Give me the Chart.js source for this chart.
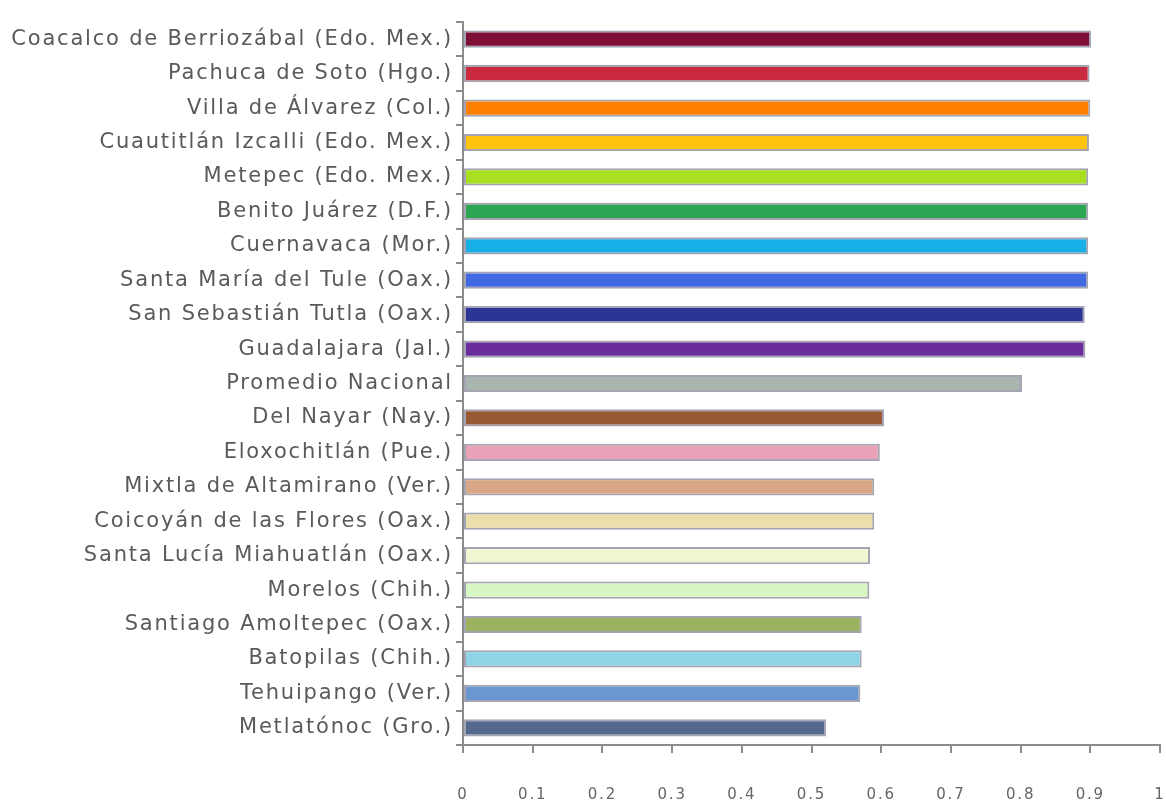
<!DOCTYPE html>
<html>
<head>
<meta charset="utf-8">
<script src="https://cdn.jsdelivr.net/npm/chart.js@4"></script>
<style>
  html, body { margin: 0; padding: 0; background: #ffffff; }
  #wrap { width: 1166px; height: 806px; position: relative; }
</style>
</head>
<body>
<div id="wrap"><canvas id="chart" width="1166" height="806"></canvas></div>
<script>
// Municipalities ordered top to bottom
const municipios = [
  'Coacalco de Berriozábal (Edo. Mex.)',
  'Pachuca de Soto (Hgo.)',
  'Villa de Álvarez (Col.)',
  'Cuautitlán Izcalli (Edo. Mex.)',
  'Metepec (Edo. Mex.)',
  'Benito Juárez (D.F.)',
  'Cuernavaca (Mor.)',
  'Santa María del Tule (Oax.)',
  'San Sebastián Tutla (Oax.)',
  'Guadalajara (Jal.)',
  'Promedio Nacional',
  'Del Nayar (Nay.)',
  'Eloxochitlán (Pue.)',
  'Mixtla de Altamirano (Ver.)',
  'Coicoyán de las Flores (Oax.)',
  'Santa Lucía Miahuatlán (Oax.)',
  'Morelos (Chih.)',
  'Santiago Amoltepec (Oax.)',
  'Batopilas (Chih.)',
  'Tehuipango (Ver.)',
  'Metlatónoc (Gro.)'
];

// Index value per municipality
const indice = [
  0.901, 0.899, 0.900, 0.898, 0.897, 0.897, 0.897, 0.897, 0.892, 0.893,
  0.802,
  0.604, 0.598, 0.590, 0.590, 0.584, 0.583, 0.572, 0.572, 0.570, 0.521
];

// X axis tick values
const xTicks = [0, 0.1, 0.2, 0.3, 0.4, 0.5, 0.6, 0.7, 0.8, 0.9, 1];

// Fill colour per bar
const colores = [
  '#7d0f36', '#c92a40', '#ff7f00', '#ffc20e', '#a6e01e', '#2ca653', '#18aee6',
  '#4169e1', '#2b3596', '#6a2c9c', '#a9b6b0', '#975834', '#eaa2b8', '#d9a785',
  '#ecdeaa', '#f2f6d2', '#d6f7c2', '#9bb35f', '#8fd4e6', '#6a97d2', '#55698f'
];

// Wider text tracking for the axis labels
const spacedText = {
  id: 'spacedText',
  beforeDraw(chart) { chart.ctx.letterSpacing = '1.8px'; },
  afterDraw(chart) { chart.ctx.letterSpacing = '0px'; }
};

const ctx = document.getElementById('chart').getContext('2d');
new Chart(ctx, {
  type: 'bar',
  data: {
    labels: municipios,
    datasets: [{
      data: indice,
      backgroundColor: colores,
      borderColor: 'rgba(90,90,115,0.55)',
      borderWidth: 2,
      borderSkipped: false,
      categoryPercentage: 1.0,
      barPercentage: 0.5
    }]
  },
  plugins: [spacedText],
  options: {
    indexAxis: 'y',
    responsive: false,
    animation: false,
    layout: { padding: { left: 0, right: 6, top: 22, bottom: 0 } },
    plugins: {
      legend: { display: false },
      tooltip: { enabled: false }
    },
    scales: {
      x: {
        type: 'linear',
        min: 0,
        max: 1,
        afterBuildTicks: (axis) => { axis.ticks = xTicks.map(v => ({ value: v })); },
        afterFit: (axis) => {
          axis.height = 61;
          axis.paddingLeft = 0;
          axis.paddingRight = 0;
        },
        border: { display: true, color: '#8c8c8c', width: 2 },
        grid: {
          drawOnChartArea: false,
          drawTicks: true,
          tickLength: 8,
          color: '#8c8c8c',
          lineWidth: 2
        },
        ticks: {
          padding: 33,
          color: '#666666',
          font: { family: 'DejaVu Sans', size: 15 },
          maxRotation: 0,
          callback: (v) => String(v)
        }
      },
      y: {
        afterFit: (axis) => { axis.width = 463; },
        border: { display: true, color: '#8c8c8c', width: 2 },
        grid: {
          drawOnChartArea: false,
          drawTicks: true,
          tickLength: 7,
          offset: true,
          color: '#8c8c8c',
          lineWidth: 2
        },
        ticks: {
          padding: 3,
          color: '#5a5a5a',
          autoSkip: false,
          font: { family: 'DejaVu Sans', size: 21 }
        }
      }
    }
  }
});
</script>
</body>
</html>
